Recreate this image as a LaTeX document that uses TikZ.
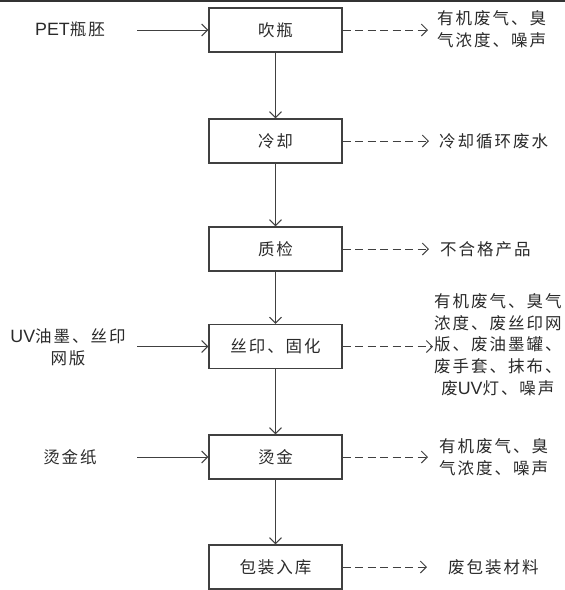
\documentclass[tikz,border=0pt]{standalone}
\usepackage{fontspec}
\setmainfont{Noto Sans CJK SC}[LetterSpace=12]
\newfontfamily\latinfont{Liberation Sans}[Scale=1.08]
\usetikzlibrary{arrows.meta}
\definecolor{ink}{HTML}{2A2A2A}
\definecolor{edge}{HTML}{404040}
\tikzset{
  proc/.style={draw=edge, line width=1.2pt, minimum width=133pt, minimum height=44pt, inner sep=0pt,
    font=\fontsize{16.5}{22}\selectfont, text=ink},
  lbl/.style={inner sep=0pt, font=\fontsize{16.5}{22}\selectfont, text=ink},
  flow/.style={draw=edge, line width=1pt, -{Straight Barb[length=6pt,width=12pt]}},
  waste/.style={flow, dash pattern=on 8pt off 4.5pt}
}
\begin{document}
\begin{tikzpicture}[x=1pt,y=-1pt]
\useasboundingbox (0,0) rectangle (565,590);
\coordinate (tl) at (0,1);
\coordinate (tr) at (565,1);
\draw[line width=2pt, black!80] (tl) -- (tr);

% process boxes
\node[proc] (b1) at (275.5,30) {吹瓶};
\node[proc] (b2) at (275.5,141) {冷却};
\node[proc] (b3) at (275.5,249) {质检};
\node[proc] (b4) at (275.5,346.5) {丝印、固化};
\node[proc] (b5) at (275.5,457) {烫金};
\node[proc] (b6) at (275.5,567) {包装入库};

\draw[flow] (b1.south) -- (b2.north);
\draw[flow] (b2.south) -- (b3.north);
\draw[flow] (b3.south) -- (b4.north);
\draw[flow] (b4.south) -- (b5.north);
\draw[flow] (b5.south) -- (b6.north);

% inputs
\node[lbl, anchor=west] (i1) at (35,29) {{\latinfont PET}瓶胚};
\node[lbl, align=center] (i4) at (68,347) {{\latinfont UV}油墨、丝印\\网版};
\node[lbl] (i5) at (70,457) {烫金纸};
\coordinate (i1e) at (137,30);
\coordinate (i4e) at (137,346.5);
\coordinate (i5e) at (137,457);
\draw[flow] (i1e) -- (b1.west);
\draw[flow] (i4e) -- (b4.west);
\draw[flow] (i5e) -- (b5.west);

% outputs
\node[lbl, anchor=west, align=left] (o1) at (437,29.5) {有机废气、臭\\气浓度、噪声};
\node[lbl, anchor=west] (o2) at (439,141) {冷却循环废水};
\node[lbl, anchor=west] (o3) at (440,249) {不合格产品};
\node[lbl, anchor=west, align=center, font=\fontsize{16.5}{21.7}\selectfont] (o4) at (434,344.5)
  {有机废气、臭气\\浓度、废丝印网\\版、废油墨罐、\\废手套、抹布、\\废{\latinfont UV}灯、噪声};
\node[lbl, anchor=west, align=left] (o5) at (439,457) {有机废气、臭\\气浓度、噪声};
\node[lbl, anchor=west] (o6) at (448,567) {废包装材料};

\draw[waste, shorten >=9pt] (b1.east) -- (b1.east -| o1.west);
\draw[waste, shorten >=10pt] (b2.east) -- (b2.east -| o2.west);
\draw[waste, shorten >=11pt] (b3.east) -- (b3.east -| o3.west);
\draw[waste, shorten >=1pt] (b4.east) -- (b4.east -| o4.west);
\draw[waste, shorten >=11pt] (b5.east) -- (b5.east -| o5.west);
\draw[waste, shorten >=21pt] (b6.east) -- (b6.east -| o6.west);
\end{tikzpicture}
\end{document}
